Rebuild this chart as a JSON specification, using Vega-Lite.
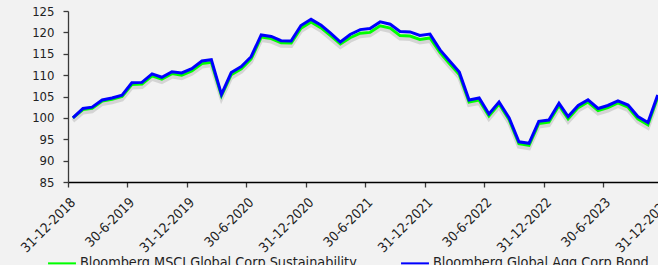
{
  "$schema": "https://vega.github.io/schema/vega-lite/v6.json",
  "width": 590,
  "height": 171,
  "autosize": {"type": "none"},
  "padding": {"left": 68, "right": 0, "top": 11, "bottom": 83},
  "background": "#f2f2f2",
  "config": {
    "view": {"stroke": null},
    "font": "DejaVu Sans Condensed, Liberation Sans, sans-serif",
    "axis": {"labelFont": "DejaVu Sans Condensed, Liberation Sans, sans-serif", "labelFontSize": 13, "labelColor": "#222222", "grid": false, "title": null, "tickSize": 5, "domainColor": "#3a3a3a", "tickColor": "#3a3a3a", "domainWidth": 1.3, "tickWidth": 1.3},
    "legend": {"labelFont": "DejaVu Sans Condensed, Liberation Sans, sans-serif", "labelFontSize": 14.3, "labelColor": "#222222"}
  },
  "data": {"values": [
    {"date": "2018-12-31", "agg": 100.0, "msci": 100.0},
    {"date": "2019-01-31", "agg": 102.2, "msci": 101.95},
    {"date": "2019-02-28", "agg": 102.5, "msci": 102.25},
    {"date": "2019-03-31", "agg": 104.2, "msci": 103.95},
    {"date": "2019-04-30", "agg": 104.65, "msci": 104.35},
    {"date": "2019-05-31", "agg": 105.3, "msci": 105.0},
    {"date": "2019-06-30", "agg": 108.2, "msci": 107.8},
    {"date": "2019-07-31", "agg": 108.3, "msci": 107.9},
    {"date": "2019-08-31", "agg": 110.3, "msci": 109.85},
    {"date": "2019-09-30", "agg": 109.5, "msci": 109.05},
    {"date": "2019-10-31", "agg": 110.8, "msci": 110.35},
    {"date": "2019-11-30", "agg": 110.5, "msci": 110.0},
    {"date": "2019-12-31", "agg": 111.5, "msci": 111.0},
    {"date": "2020-01-31", "agg": 113.3, "msci": 112.7},
    {"date": "2020-02-29", "agg": 113.6, "msci": 113.0},
    {"date": "2020-03-31", "agg": 105.5, "msci": 105.2},
    {"date": "2020-04-30", "agg": 110.6, "msci": 110.1},
    {"date": "2020-05-31", "agg": 112.0, "msci": 111.5},
    {"date": "2020-06-30", "agg": 114.3, "msci": 113.8},
    {"date": "2020-07-31", "agg": 119.4, "msci": 118.9},
    {"date": "2020-08-31", "agg": 119.05, "msci": 118.55},
    {"date": "2020-09-30", "agg": 118.05, "msci": 117.55},
    {"date": "2020-10-31", "agg": 118.0, "msci": 117.5},
    {"date": "2020-11-30", "agg": 121.6, "msci": 121.0},
    {"date": "2020-12-31", "agg": 123.05, "msci": 122.45},
    {"date": "2021-01-31", "agg": 121.65, "msci": 121.05},
    {"date": "2021-02-28", "agg": 119.9, "msci": 119.3},
    {"date": "2021-03-31", "agg": 117.75, "msci": 117.3},
    {"date": "2021-04-30", "agg": 119.5, "msci": 118.75},
    {"date": "2021-05-31", "agg": 120.65, "msci": 119.8},
    {"date": "2021-06-30", "agg": 120.9, "msci": 120.0},
    {"date": "2021-07-31", "agg": 122.45, "msci": 121.55},
    {"date": "2021-08-31", "agg": 121.9, "msci": 121.0},
    {"date": "2021-09-30", "agg": 120.2, "msci": 119.25},
    {"date": "2021-10-31", "agg": 120.1, "msci": 119.15},
    {"date": "2021-11-30", "agg": 119.3, "msci": 118.35},
    {"date": "2021-12-31", "agg": 119.6, "msci": 118.7},
    {"date": "2022-01-31", "agg": 115.9, "msci": 115.3},
    {"date": "2022-02-28", "agg": 113.4, "msci": 112.8},
    {"date": "2022-03-31", "agg": 110.7, "msci": 110.15},
    {"date": "2022-04-30", "agg": 104.2, "msci": 103.7},
    {"date": "2022-05-31", "agg": 104.65, "msci": 104.15},
    {"date": "2022-06-30", "agg": 100.9, "msci": 100.45},
    {"date": "2022-07-31", "agg": 103.7, "msci": 103.25},
    {"date": "2022-08-31", "agg": 100.0, "msci": 99.55},
    {"date": "2022-09-30", "agg": 94.4, "msci": 93.95},
    {"date": "2022-10-31", "agg": 94.05, "msci": 93.6},
    {"date": "2022-11-30", "agg": 99.2, "msci": 98.7},
    {"date": "2022-12-31", "agg": 99.5, "msci": 99.0},
    {"date": "2023-01-31", "agg": 103.4, "msci": 102.9},
    {"date": "2023-02-28", "agg": 100.3, "msci": 99.8},
    {"date": "2023-03-31", "agg": 102.9, "msci": 102.4},
    {"date": "2023-04-30", "agg": 104.2, "msci": 103.7},
    {"date": "2023-05-31", "agg": 102.2, "msci": 101.7},
    {"date": "2023-06-30", "agg": 102.9, "msci": 102.4},
    {"date": "2023-07-31", "agg": 104.0, "msci": 103.5},
    {"date": "2023-08-31", "agg": 103.0, "msci": 102.5},
    {"date": "2023-09-30", "agg": 100.3, "msci": 99.8},
    {"date": "2023-10-31", "agg": 98.9, "msci": 98.4},
    {"date": "2023-11-30", "agg": 105.35, "msci": 104.85}
  ]},
  "transform": [
    {"fold": ["msci", "agg"], "as": ["key", "value"]},
    {"calculate": "datum.key === 'msci' ? 'Bloomberg MSCI Global Corp Sustainability' : 'Bloomberg Global Agg Corp Bond'", "as": "series"}
  ],
  "encoding": {
    "x": {
      "field": "date", "type": "temporal",
      "scale": {"type": "utc", "domain": [{"year": 2018, "month": 12, "date": 16, "utc": true}, {"year": 2024, "month": 1, "date": 19, "utc": true}], "range": [0, 606]},
      "axis": {
        "values": [
          {"year": 2018, "month": 12, "date": 16, "utc": true},
          {"year": 2019, "month": 6, "date": 15, "utc": true},
          {"year": 2019, "month": 12, "date": 16, "utc": true},
          {"year": 2020, "month": 6, "date": 15, "utc": true},
          {"year": 2020, "month": 12, "date": 16, "utc": true},
          {"year": 2021, "month": 6, "date": 15, "utc": true},
          {"year": 2021, "month": 12, "date": 16, "utc": true},
          {"year": 2022, "month": 6, "date": 15, "utc": true},
          {"year": 2022, "month": 12, "date": 16, "utc": true},
          {"year": 2023, "month": 6, "date": 15, "utc": true},
          {"year": 2023, "month": 12, "date": 16, "utc": true}
        ],
        "labelExpr": "utcFormat(datum.value + 15 * 86400000, '%-d-%-m-%Y')",
        "labelAngle": -45,
        "labelAlign": "right",
        "labelBaseline": "middle",
        "labelPadding": 13,
        "labelOffset": 5,
        "labelFontSize": 13.5,
        "domainColor": "#000000",
        "labelOverlap": false,
        "labelBound": false,
        "labelFlush": false
      }
    },
    "y": {
      "field": "value", "type": "quantitative",
      "scale": {"domain": [85, 125], "nice": false, "zero": false},
      "axis": {"values": [85, 90, 95, 100, 105, 110, 115, 120, 125], "labelPadding": 9}
    }
  },
  "layer": [
    {
      "transform": [{"filter": "datum.key === 'msci'"}],
      "mark": {"type": "line", "stroke": "#000000", "strokeWidth": 4, "opacity": 0.12, "yOffset": 3, "clip": false},
      "encoding": {}
    },
    {
      "transform": [{"filter": "datum.key === 'msci'"}],
      "mark": {"type": "line", "strokeWidth": 3},
      "encoding": {
        "color": {"field": "series", "type": "nominal",
          "scale": {"domain": ["Bloomberg MSCI Global Corp Sustainability", "Bloomberg Global Agg Corp Bond"], "range": ["#00ff00", "#0000ff"]},
          "legend": {"title": null, "orient": "none", "legendX": -21, "legendY": 237, "direction": "horizontal", "columns": 2, "symbolType": "stroke", "symbolStrokeWidth": 2, "symbolSize": 780, "labelLimit": 400, "labelOffset": 3, "columnPadding": 40}
        }
      }
    },
    {
      "transform": [{"filter": "datum.key === 'agg'"}],
      "mark": {"type": "line", "strokeWidth": 3},
      "encoding": {
        "color": {"field": "series", "type": "nominal"}
      }
    }
  ]
}
